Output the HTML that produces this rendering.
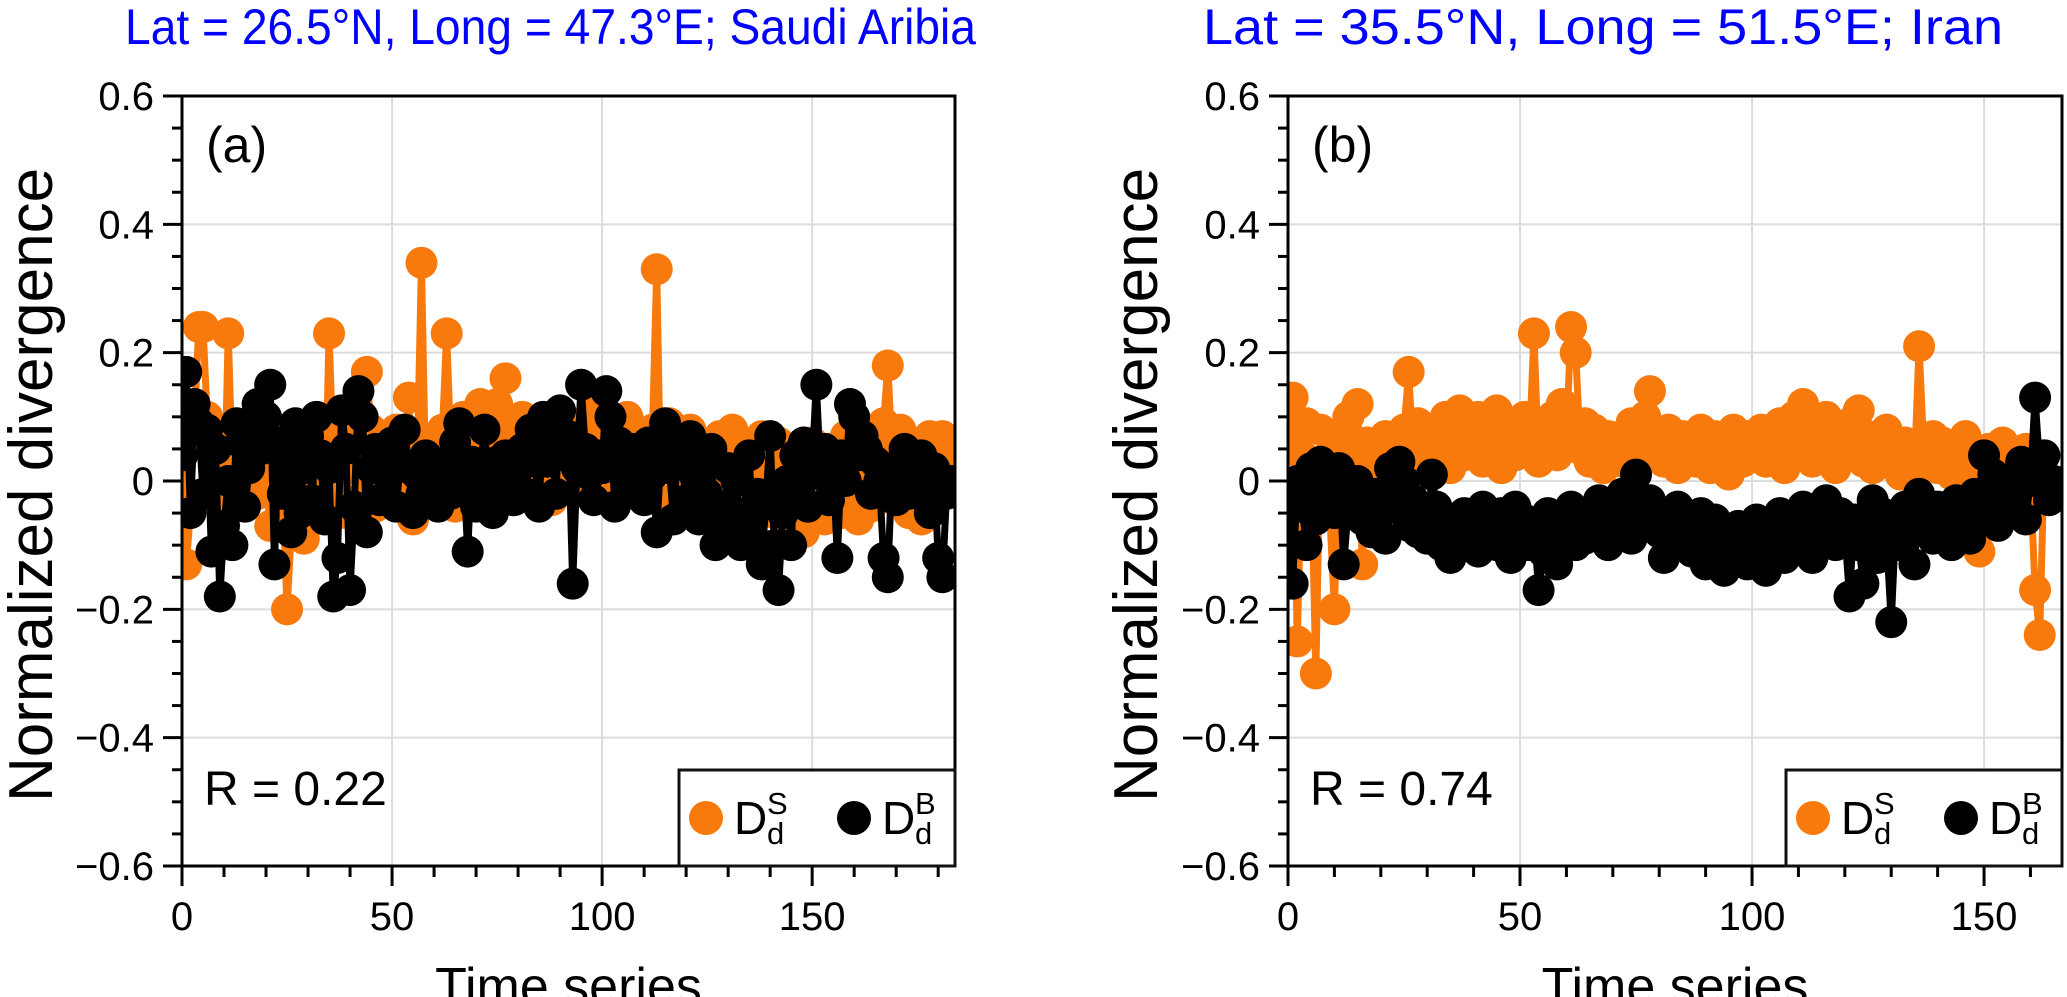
<!DOCTYPE html>
<html><head><meta charset="utf-8"><style>
html,body{margin:0;padding:0;background:#fff;}
svg{display:block;font-family:"Liberation Sans",sans-serif;}
</style></head><body>
<svg id="fig" width="2067" height="997" viewBox="0 0 2067 997" xmlns="http://www.w3.org/2000/svg"></svg>
<script>
const xTicksA = [0, 50, 100, 150];
const xTicksB = [0, 50, 100, 150];
const yTicks = [0.6, 0.4, 0.2, 0, -0.2, -0.4, -0.6];
const yTickLabels = ["0.6", "0.4", "0.2", "0", "\u22120.2", "\u22120.4", "\u22120.6"];
const orangeA = [0.05,-0.13,-0.05,0.1,0.24,0.24,0.1,-0.03,0.05,0.08,-0.05,0.23,0.02,0.05,0.08,-0.04,0.06,0.09,-0.02,0.1,
0.0,-0.07,0.04,0.08,-0.02,-0.2,-0.08,0.03,0.06,-0.09,0.05,0.02,0.08,0.0,-0.06,0.23,0.04,-0.02,0.06,-0.05,
0.08,0.02,-0.03,0.05,0.17,0.08,-0.04,0.02,0.06,-0.02,0.04,0.08,-0.03,0.05,0.13,-0.06,0.03,0.34,0.0,0.06,
-0.02,0.04,0.08,0.23,0.05,-0.04,0.06,0.1,0.02,-0.03,0.07,0.12,0.05,0.11,-0.02,0.12,0.08,0.16,0.03,-0.03,
0.06,0.1,0.02,-0.02,0.05,0.08,0.0,0.07,-0.03,0.05,0.1,0.02,0.08,-0.01,0.06,0.09,0.03,0.05,0.11,0.07,
0.13,0.02,0.06,-0.01,0.09,0.05,0.1,0.03,0.07,0.02,0.06,0.04,0.08,0.33,-0.03,0.05,0.09,0.02,0.06,0.0,
0.04,0.08,-0.02,0.05,0.03,-0.05,0.06,0.02,0.07,-0.04,0.04,0.08,0.0,-0.03,0.05,0.02,-0.06,0.04,0.07,-0.02,
0.03,-0.05,0.06,0.01,-0.07,0.04,-0.03,0.05,-0.08,0.02,0.06,-0.04,0.03,-0.06,0.05,-0.02,0.04,-0.05,0.07,-0.03,
0.02,-0.06,0.08,0.03,-0.04,0.06,-0.02,0.09,0.18,0.05,-0.03,0.08,0.02,-0.05,0.06,0.0,-0.06,0.03,0.07,-0.02,0.05,0.07,0.02,0.0];
const blackA = [0.04,0.17,-0.05,0.12,0.09,-0.02,0.08,-0.11,0.05,-0.18,-0.07,0.0,-0.1,0.09,0.06,-0.04,0.02,0.08,0.12,0.05,
0.1,0.15,-0.13,0.06,-0.02,0.04,-0.08,0.09,-0.05,0.02,0.07,-0.03,0.1,0.04,-0.06,0.02,-0.18,-0.12,0.11,0.05,
-0.17,-0.04,0.14,0.1,-0.08,0.02,0.05,-0.03,0.04,0.01,0.06,-0.04,0.03,0.08,0.02,-0.05,0.01,-0.02,0.04,-0.03,
0.02,-0.04,0.01,0.03,-0.02,0.06,0.09,0.02,-0.11,0.03,-0.04,0.02,0.08,0.0,-0.05,0.03,-0.02,0.04,0.01,-0.03,
0.02,0.05,-0.02,0.08,0.03,-0.04,0.1,0.03,0.06,-0.02,0.11,0.04,0.07,-0.16,0.02,0.15,0.05,0.01,-0.03,0.04,
0.02,0.14,0.1,-0.04,0.06,0.03,-0.02,0.05,0.0,0.04,-0.03,0.06,0.01,-0.08,0.04,0.09,0.02,-0.06,0.05,0.03,
-0.03,0.07,0.01,-0.06,0.04,-0.02,0.05,-0.1,-0.04,-0.08,0.02,-0.07,0.0,-0.1,-0.05,0.04,-0.09,-0.02,-0.13,-0.03,
0.07,-0.1,-0.17,-0.05,0.0,-0.1,0.04,-0.02,0.06,-0.04,0.03,0.15,0.01,0.05,-0.03,0.02,-0.12,0.04,0.0,0.12,
0.1,0.04,0.07,0.05,-0.02,0.03,0.0,-0.12,-0.15,0.02,-0.03,0.01,0.05,-0.02,0.03,-0.01,0.04,0.0,-0.05,0.02,-0.12,-0.15,-0.02,0.0];
const orangeB = [0.07,0.13,-0.25,0.04,0.09,0.02,-0.3,0.08,0.03,-0.05,-0.2,0.06,0.0,0.1,0.04,0.12,-0.13,0.06,0.02,-0.02,
0.03,0.07,0.0,0.05,0.02,0.08,0.17,0.04,0.09,0.01,0.06,0.03,0.08,0.05,0.1,0.02,0.07,0.11,0.04,0.09,
0.05,0.1,0.03,0.08,0.06,0.11,0.02,0.07,0.09,0.04,0.06,0.1,0.05,0.23,0.03,0.08,0.06,0.1,0.04,0.12,
0.07,0.24,0.2,0.05,0.09,0.03,0.08,0.06,0.02,0.07,0.05,0.04,0.03,0.06,0.09,0.02,0.05,0.1,0.14,0.04,
0.06,0.03,0.08,0.05,0.02,0.07,0.04,0.06,0.03,0.08,0.05,0.02,0.07,0.04,0.06,0.01,0.08,0.05,0.03,0.07,
0.04,0.06,0.08,0.03,0.07,0.05,0.09,0.02,0.06,0.1,0.04,0.12,0.07,0.03,0.08,0.05,0.1,0.06,0.02,0.07,
0.04,0.09,0.05,0.11,0.03,0.07,0.02,0.06,0.04,0.08,0.03,0.05,0.01,0.06,0.04,0.02,0.21,0.05,0.03,0.07,
0.02,0.06,0.04,0.01,0.05,0.03,0.07,-0.02,0.04,-0.11,0.02,0.05,-0.04,0.03,0.06,0.01,0.04,-0.03,0.02,0.05,0.0,-0.17,-0.24,0.04,-0.02,0.0];
const blackB = [-0.02,-0.16,0.0,-0.04,-0.1,0.02,-0.06,0.03,-0.03,0.01,-0.05,0.02,-0.13,-0.04,-0.02,0.0,-0.06,-0.03,-0.08,-0.02,
-0.05,-0.09,0.02,-0.04,0.03,0.0,-0.07,-0.03,-0.08,-0.05,-0.09,0.01,-0.04,-0.1,-0.06,-0.12,-0.08,-0.1,-0.05,-0.09,
-0.07,-0.11,-0.04,-0.09,-0.06,-0.1,-0.05,-0.08,-0.12,-0.04,-0.09,-0.06,-0.1,-0.07,-0.17,-0.11,-0.05,-0.09,-0.13,-0.06,
-0.08,-0.04,-0.1,-0.06,-0.09,-0.05,-0.08,-0.03,-0.07,-0.1,-0.05,-0.08,-0.02,-0.06,-0.09,0.01,-0.04,-0.07,-0.03,-0.05,
-0.08,-0.12,-0.06,-0.09,-0.04,-0.1,-0.07,-0.11,-0.08,-0.05,-0.13,-0.09,-0.06,-0.1,-0.14,-0.08,-0.12,-0.07,-0.1,-0.13,
-0.09,-0.06,-0.11,-0.14,-0.08,-0.1,-0.05,-0.12,-0.09,-0.07,-0.1,-0.04,-0.08,-0.12,-0.06,-0.09,-0.03,-0.07,-0.1,-0.05,
-0.08,-0.18,-0.06,-0.1,-0.16,-0.07,-0.03,-0.12,-0.05,-0.09,-0.22,-0.06,-0.1,-0.04,-0.08,-0.13,-0.02,-0.07,-0.05,-0.09,
-0.04,-0.08,-0.06,-0.1,-0.03,-0.07,-0.05,-0.09,-0.02,-0.06,0.04,-0.04,0.01,-0.07,-0.03,0.0,-0.05,-0.02,0.03,-0.06,0.0,0.13,0.02,0.04,-0.03,0.0];

const NS = "http://www.w3.org/2000/svg";
const svg = document.getElementById("fig");
const ORANGE = "#f8790c";
function mk(tag, attrs, parent) {
  const e = document.createElementNS(NS, tag);
  for (const k in attrs) e.setAttribute(k, attrs[k]);
  (parent || svg).appendChild(e);
  return e;
}

function panel(p) {
  const g = mk("g", {});
  
  
  const sx = v => p.x0 + (v - 0) * (p.x1 - p.x0) / p.xmax;
  const sy = v => p.y0 + (0.6 - v) * (p.y1 - p.y0) / 1.2;
  const t = mk("text", {x: p.titleX, y: 44, "font-size": 50, fill: "#0000ff", textLength: p.titleLen, lengthAdjust: "spacingAndGlyphs"}, g);
  t.textContent = p.title;
  
  
  const grid = mk("g", {stroke: "#dcdcdc", "stroke-width": 2}, g);
  
  
  p.xTicks.forEach(v => { if (v > 0) mk("line", {x1: sx(v), x2: sx(v), y1: p.y0, y2: p.y1}, grid); });
  yTicks.forEach(v => { mk("line", {x1: p.x0, x2: p.x1, y1: sy(v), y2: sy(v)}, grid); });
  const cp = mk("clipPath", {id: "clip" + p.id}, g);
  mk("rect", {x: p.x0, y: p.y0, width: p.x1 - p.x0, height: p.y1 - p.y0}, cp);
  const plot = mk("g", {"clip-path": "url(#clip" + p.id + ")"}, g);
  [[p.orange, ORANGE, "series-ds"], [p.black, "#000", "series-db"]].forEach(([data, col, nm]) => {
    const sg = mk("g", {}, plot);
    
    
    const pts = data.map((v, i) => sx(i) + "," + sy(v)).join(" ");
    mk("polyline", {points: pts, fill: "none", stroke: col, "stroke-width": 7, "stroke-linejoin": "round"}, sg);
    data.forEach((v, i) => {
      const c = mk("circle", {cx: sx(i), cy: sy(v), r: 16, fill: col}, sg);
      
      
    });
  });
  const fr = mk("rect", {x: p.x0, y: p.y0, width: p.x1 - p.x0, height: p.y1 - p.y0, fill: "none", stroke: "#000", "stroke-width": 3}, g);
  
  
  const ya = mk("g", {}, g);
  
  
  for (let k = 0; k <= 24; k++) {
    const v = -0.6 + k * 0.05;
    const major = k % 4 === 0;
    mk("line", {x1: p.x0 - (major ? 19 : 10), x2: p.x0, y1: sy(v), y2: sy(v), stroke: "#000", "stroke-width": 3}, ya);
  }
  yTicks.forEach((v, i) => {
    const tl = mk("text", {x: p.x0 - 28, y: sy(v) + 14, "font-size": 40, "text-anchor": "end"}, ya);
    tl.textContent = yTickLabels[i];
    
    
  });
  const yl = mk("text", {x: 0, y: 0, "font-size": 62, "text-anchor": "middle", transform: "translate(" + p.ylabX + ",485) rotate(-90)"}, ya);
  yl.textContent = "Normalized divergence";
  
  
  const xa = mk("g", {}, g);
  
  
  for (let v = 0; v <= p.xmax; v += 10) {
    const major = v % 50 === 0;
    mk("line", {x1: sx(v), x2: sx(v), y1: p.y1, y2: p.y1 + (major ? 20 : 11), stroke: "#000", "stroke-width": 3}, xa);
  }
  p.xTicks.forEach(v => {
    const tl = mk("text", {x: sx(v), y: 930, "font-size": 40, "text-anchor": "middle"}, xa);
    tl.textContent = String(v);
    
    
  });
  const xl = mk("text", {x: (p.x0 + p.x1) / 2, y: 1004, "font-size": 52, "text-anchor": "middle"}, xa);
  xl.textContent = "Time series";
  
  
  const pl = mk("text", {x: p.x0 + 24, y: 162, "font-size": 50}, g);
  pl.textContent = p.label;
  
  
  const rt = mk("text", {x: p.x0 + 22, y: 805, "font-size": 48}, g);
  rt.textContent = p.r;
  
  
  const lg = mk("g", {}, g);
  
  
  const lx = p.x1 - 276;
  mk("rect", {x: lx, y: 770, width: 276, height: p.y1 - 770, fill: "#fff", stroke: "#111", "stroke-width": 3}, lg);
  [[ORANGE, "S", 0, "legend-entry-ds"], ["#000", "B", 148, "legend-entry-db"]].forEach(([c, sup, off, nm]) => {
    const eg = mk("g", {}, lg);
    
    
    mk("circle", {cx: lx + 27 + off, cy: 818, r: 17, fill: c}, eg);
    const d = mk("text", {x: lx + 55 + off, y: 834, "font-size": 46}, eg);
    d.textContent = "D";
    mk("text", {x: lx + 88 + off, y: 814, "font-size": 31}, eg).textContent = sup;
    mk("text", {x: lx + 88 + off, y: 844, "font-size": 31}, eg).textContent = "d";
  });
}

panel({id: "panel-a", x0: 182, x1: 955, y0: 96, y1: 866, xmax: 184, xTicks: xTicksA,
  orange: orangeA, black: blackA, title: "Lat = 26.5\u00b0N, Long = 47.3\u00b0E; Saudi Aribia",
  titleX: 125, titleLen: 851, ylabX: 52, label: "(a)", r: "R = 0.22"});
panel({id: "panel-b", x0: 1288, x1: 2062, y0: 96, y1: 866, xmax: 166.8, xTicks: xTicksB,
  orange: orangeB, black: blackB, title: "Lat = 35.5\u00b0N, Long = 51.5\u00b0E; Iran",
  titleX: 1203, titleLen: 800, ylabX: 1157, label: "(b)", r: "R = 0.74"});
</script>
</body></html>
